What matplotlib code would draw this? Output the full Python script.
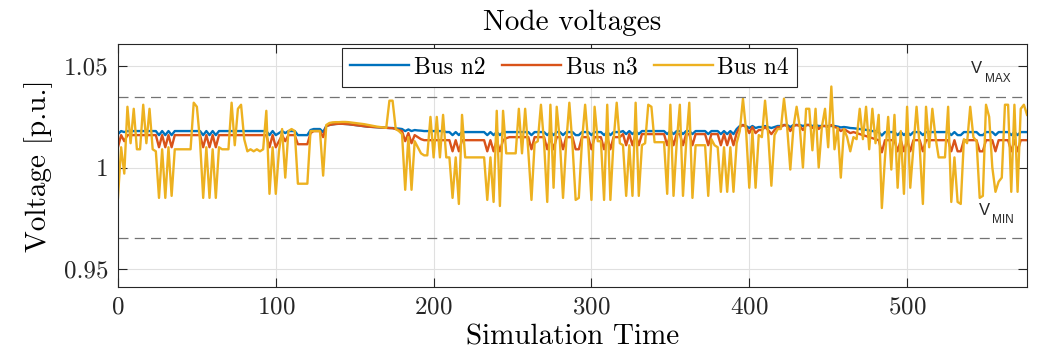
import numpy as np
import matplotlib
matplotlib.use("Agg")
import matplotlib.pyplot as plt

plt.rcParams['font.family'] = 'serif'
plt.rcParams['font.serif'] = ['cmr10']
plt.rcParams['axes.formatter.use_mathtext'] = True
plt.rcParams['mathtext.fontset'] = 'cm'

# bus voltages in milli-p.u., sampled every 2 time steps
bus_n2 = [
    1016.5, 1018, 1017.5, 1018, 1018, 1018, 1018, 1018, 1018, 1018,
    1018, 1018, 1018, 1016, 1018, 1016, 1018, 1016, 1018, 1018,
    1018, 1018, 1018, 1018, 1018, 1018, 1018, 1016, 1018, 1016,
    1018, 1016, 1018, 1018, 1018, 1018, 1018, 1018, 1018, 1018,
    1018, 1018, 1018, 1018, 1018, 1018, 1018, 1018, 1016, 1018,
    1016, 1017, 1018, 1017, 1018, 1018, 1018, 1016, 1016, 1016,
    1016, 1018.5, 1019, 1019, 1019, 1017.5, 1020.5, 1021, 1021.3, 1021.5,
    1021.6, 1021.6, 1021.5, 1021.4, 1021.2, 1021.0, 1020.8, 1020.6, 1020.4, 1020.2,
    1020.1, 1020.0, 1019.9, 1019.8, 1019.7, 1019.6, 1019.5, 1019.5, 1019.3, 1019.2,
    1019.0, 1018, 1018.8, 1018, 1018.5, 1018.3, 1018.2, 1018, 1018, 1018,
    1018, 1018, 1018, 1018, 1017.5, 1017.5, 1016, 1017.5, 1016, 1017.5,
    1017.5, 1017.5, 1017.5, 1017.5, 1017.5, 1017.5, 1017.5, 1016, 1017.5, 1016,
    1017.5, 1016, 1017.5, 1017.5, 1017.5, 1017.5, 1017.5, 1017.5, 1017.5, 1017.5,
    1017.5, 1016, 1017.5, 1017.5, 1017.5, 1017.5, 1016, 1017.5, 1016, 1017.5,
    1017.5, 1016, 1017.5, 1017.5, 1017.5, 1016, 1016, 1017.5, 1017.5, 1017.5,
    1016, 1017.5, 1017.5, 1017.5, 1016, 1017.5, 1016, 1017.5, 1017.5, 1017.5,
    1018, 1016.5, 1018, 1016.5, 1018, 1016.5, 1018, 1018, 1018, 1018,
    1018, 1018, 1018, 1018, 1016.5, 1018, 1016.5, 1018, 1018, 1016.5,
    1018, 1018, 1016.5, 1018, 1018, 1018, 1018, 1016.5, 1018, 1018,
    1018, 1016.5, 1018, 1016.5, 1018, 1016.5, 1019, 1020.5, 1021, 1020.5,
    1019.5, 1020.5, 1019.5, 1020, 1020, 1020.5, 1020, 1019.5, 1020, 1020.5,
    1020.5, 1021, 1021, 1020, 1021, 1021, 1021, 1020.5, 1021, 1021,
    1020.5, 1021, 1020.5, 1020.5, 1020.5, 1020.5, 1020.5, 1020.5, 1020.2, 1019.8,
    1020, 1019.8, 1019.5, 1019.4, 1019.2, 1019.0, 1018.8, 1018.6, 1018.3, 1018,
    1018, 1017.5, 1015.8, 1017.5, 1017.5, 1017.5, 1017.5, 1016, 1017.5, 1016,
    1017.5, 1016, 1017.5, 1017.5, 1017.5, 1016, 1017.5, 1017.5, 1017.5, 1017.5,
    1017.5, 1017.5, 1017.5, 1017.5, 1016, 1017.5, 1016, 1016, 1017.5, 1017.5,
    1017.5, 1017.5, 1017.5, 1016, 1016, 1017.5, 1017.5, 1017.5, 1016, 1017.5,
    1017.5, 1017.5, 1017.5, 1016, 1017.5, 1016, 1017.5, 1017.5, 1017.5,
]

bus_n3 = [
    1010, 1016, 1013, 1016, 1016, 1016, 1016, 1016, 1016, 1016,
    1016, 1016, 1016, 1010, 1016, 1010, 1016, 1010, 1016, 1016,
    1016, 1016, 1016, 1016, 1016, 1016, 1016, 1010, 1016, 1010,
    1016, 1010, 1016, 1016, 1016, 1016, 1016, 1016, 1016, 1016,
    1016, 1016, 1016, 1016, 1016, 1016, 1016, 1016, 1010, 1016,
    1010, 1013, 1016, 1013, 1016, 1016, 1016, 1011.5, 1011.5, 1011.5,
    1011.5, 1017, 1018, 1018, 1018, 1015, 1020.5, 1021, 1021.3, 1021.5,
    1021.6, 1021.6, 1021.5, 1021.4, 1021.2, 1021.0, 1020.8, 1020.6, 1020.4, 1020.2,
    1020.1, 1020.0, 1019.9, 1019.8, 1019.7, 1019.6, 1019.5, 1019.4, 1019.0, 1018.5,
    1018.0, 1013, 1017, 1012, 1016, 1015, 1014, 1013.5, 1013.5, 1013.5,
    1013.5, 1013.5, 1013.5, 1013.5, 1013.5, 1013.5, 1008, 1013.5, 1008, 1013.5,
    1013.5, 1013.5, 1013.5, 1013.5, 1013.5, 1013.5, 1013.5, 1008, 1013.5, 1008,
    1013.5, 1008, 1013.5, 1014.5, 1015, 1015, 1015, 1015, 1015, 1015,
    1015, 1009, 1015, 1015, 1015, 1015, 1009, 1015, 1009, 1015,
    1015, 1009, 1015, 1015, 1015, 1009, 1009, 1015, 1015, 1015,
    1009, 1015, 1015, 1015, 1009, 1015, 1009, 1015, 1015, 1015,
    1016.5, 1011, 1016.5, 1011, 1016.5, 1011, 1016.5, 1016.5, 1016.5, 1016.5,
    1016.5, 1016.5, 1016.5, 1016.5, 1011, 1016.5, 1011, 1016.5, 1016.5, 1011,
    1016.5, 1016.5, 1011, 1016.5, 1016.5, 1016.5, 1016.5, 1011, 1016.5, 1016.5,
    1016.5, 1011, 1016.5, 1011, 1016.5, 1011, 1017, 1020, 1021, 1020,
    1017, 1020, 1017, 1018.5, 1018.5, 1020, 1018.5, 1016.5, 1018.5, 1020,
    1020, 1021, 1020.5, 1018, 1020.5, 1021, 1020.5, 1018.5, 1021, 1021,
    1019.5, 1021, 1019, 1020.5, 1020.5, 1020, 1021, 1020, 1019.5, 1018,
    1019, 1018, 1017, 1017.5, 1017, 1016.5, 1016, 1015.5, 1015, 1014.5,
    1014, 1013.5, 1007.5, 1013.5, 1013.5, 1013.5, 1013.5, 1008, 1013.5, 1008,
    1013.5, 1008, 1013.5, 1013.5, 1013.5, 1008, 1013.5, 1013.5, 1013.5, 1013.5,
    1013.5, 1013.5, 1013.5, 1013.5, 1008, 1013.5, 1008, 1008, 1013.5, 1013.5,
    1013.5, 1013.5, 1013.5, 1008, 1008, 1013.5, 1013.5, 1013.5, 1008, 1013.5,
    1013.5, 1013.5, 1013.5, 1008, 1013.5, 1008, 1013.5, 1013.5, 1013.5,
]

bus_n4 = [
    985, 1010, 997, 1030, 1012, 1029, 1009, 1009, 1031, 1012,
    1029, 1009, 1008, 985, 1009, 985, 1010, 986, 1009, 1009,
    1009, 1009, 1009, 1009, 1032, 1030, 1013, 985, 1010, 985,
    1009, 985, 1010, 1009, 1009, 1009, 1032, 1011, 1029, 1031,
    1014, 1008, 1009, 1008, 1009, 1008, 1009, 1028, 987, 1010,
    987, 1008, 1019, 995, 1018, 1019, 1018, 992, 992, 992,
    992, 1018, 1018, 1018, 1018, 996, 1021, 1022, 1022.3, 1022.4,
    1022.4, 1022.5, 1022.5, 1022.4, 1022.2, 1022.0, 1021.8, 1021.6, 1021.4, 1021.1,
    1020.8, 1020.5, 1020.2, 1020.0, 1019.8, 1019.6, 1033, 1033, 1019, 1018,
    1016.5, 989, 1015, 989, 1013, 1010, 1007, 1006, 1006, 1025,
    1005, 1025, 1005, 1026, 1005, 1005, 985, 1005, 982, 1026,
    1005, 1005, 1005, 1005, 1005, 1005, 1005, 984, 1005, 983,
    1028, 981, 1028, 1007, 1007, 1007, 1007, 1029, 1007, 1029,
    1008, 984, 1012, 1013, 1031, 1012, 983, 1031, 990, 1030,
    1013, 985, 1012, 1032, 1011, 984, 985, 1013, 1031, 1012,
    984, 1030, 1013, 1013, 984, 1031, 984, 1013, 1032, 1012,
    1011, 986, 1011, 986, 1032, 986, 1011, 1012, 1031, 1030,
    1012.5, 1012.5, 1012.5, 1012.5, 987, 1031, 986, 1012, 1031, 986,
    1012, 1032, 985, 1011, 1011, 1011, 1011, 986, 1014, 1011,
    1010, 988, 1010, 988, 1010, 988, 1012, 1018, 1034, 1018,
    990, 1018, 990, 1016, 1015, 1033, 1016, 991, 1016, 1019,
    1019, 1034, 1020, 999, 1020, 1030, 1020, 1000, 1029, 1029,
    1008.5, 1029, 1000, 1020, 1029, 1010, 1040, 1009, 1019.5, 995,
    1019, 1015, 1008, 1015, 1014, 1029, 1014, 1030, 1009, 1029,
    1012, 1026, 980, 1005, 1025, 999, 1026, 990, 1018, 987,
    1030, 990, 1010, 1030, 1010, 982, 1030, 1010, 1029, 1015,
    1005, 1005, 1005, 1030, 983, 1005, 983, 982, 1014, 1012,
    1030, 1015, 1013, 985, 986, 1031, 1025, 1000, 988, 993,
    995, 1031, 1031, 988, 1031, 988, 1029, 1031, 1026,
]

labels = ['Bus n2', 'Bus n3', 'Bus n4']
colors = ['#0072BD', '#D95319', '#EDB120']
v_max = 1.035
v_min = 0.965

fig = plt.figure(figsize=(10.43, 3.62), dpi=100)
ax = fig.add_axes([0.1131, 0.2072, 0.8716, 0.6713])

for v, lab, c in zip([bus_n2, bus_n3, bus_n4], labels, colors):
    t = 2 * np.arange(len(v))
    ax.plot(t, np.array(v) / 1000, color=c, lw=1.7, label=lab)

# voltage limits
ax.axhline(v_max, color='0.45', lw=0.9, dashes=(8, 5))
ax.axhline(v_min, color='0.45', lw=0.9, dashes=(8, 5))
ax.text(540.3, 1.0465, 'V', family='Liberation Sans', fontsize=12, color='#262626')
ax.annotate('MAX', xy=(540.3, 1.0465), xytext=(10, -6), textcoords='offset points',
            family='Liberation Sans', fontsize=8.5, color='#262626')
ax.text(545.3, 0.9765, 'V', family='Liberation Sans', fontsize=12, color='#262626')
ax.annotate('MIN', xy=(545.3, 0.9765), xytext=(10, -6), textcoords='offset points',
            family='Liberation Sans', fontsize=8.5, color='#262626')

ax.set_xlim(0, 576)
ax.set_ylim(0.941, 1.061)
ax.set_xticks([0, 100, 200, 300, 400, 500])
ax.set_yticks([0.95, 1.0, 1.05], ['0.95', '1', '1.05'])
ax.grid(True, color='#e0e0e0', lw=0.8)
ax.set_axisbelow(True)
ax.tick_params(direction='in', length=6.5, width=0.8, top=True, right=True,
               labelsize=18, colors='#262626', pad=7)
for s in ax.spines.values():
    s.set_color('#262626')
    s.set_linewidth(0.8)

ax.set_title('Node voltages', fontsize=21, pad=10)
ax.set_xlabel('Simulation Time', fontsize=21, labelpad=4)
ax.set_ylabel('Voltage [p.u.]', fontsize=21, labelpad=8)

leg = ax.legend(loc='upper center', bbox_to_anchor=(0.4967, 0.982), ncol=3,
                fontsize=17, frameon=True, fancybox=False, framealpha=1,
                edgecolor='#262626', handlelength=2.5, borderpad=0.35,
                columnspacing=0.7, handletextpad=0.2, borderaxespad=0)
leg.get_frame().set_linewidth(0.8)

fig.savefig('out.png', dpi=100)
